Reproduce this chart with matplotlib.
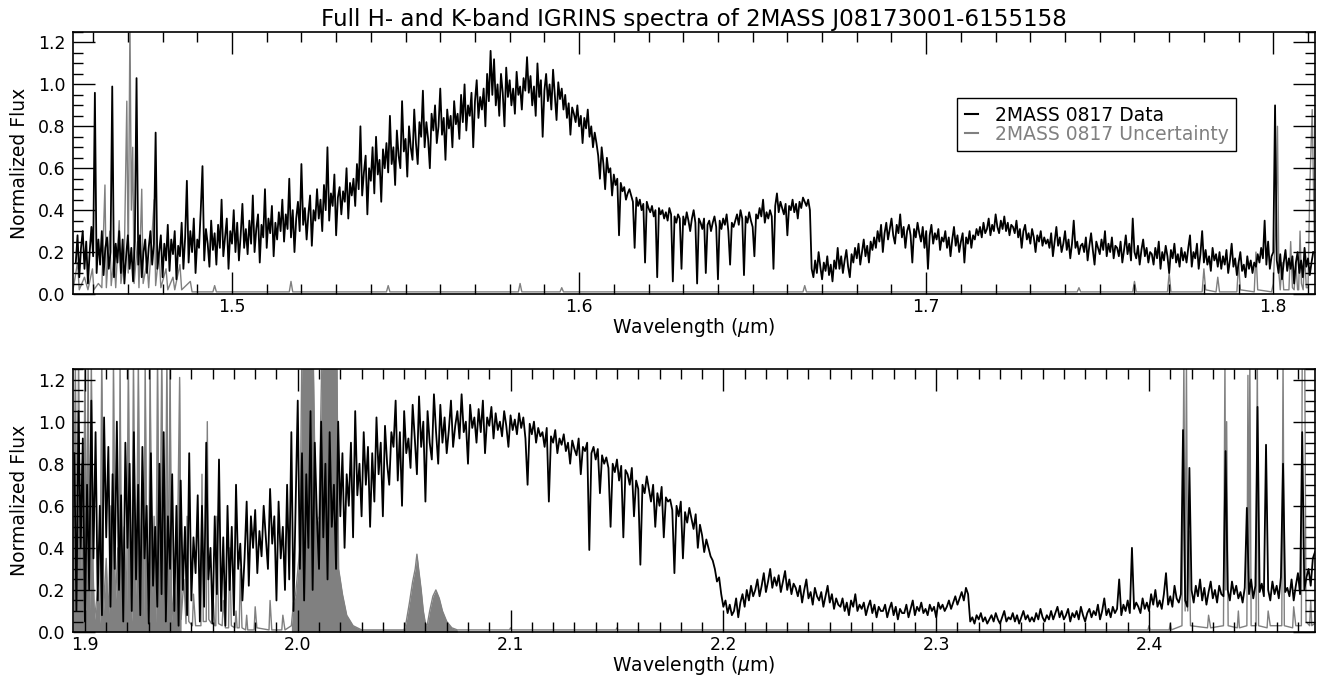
import numpy as np
import matplotlib
matplotlib.use("Agg")
import matplotlib.pyplot as plt
from matplotlib.ticker import MultipleLocator

TITLE = "Full H- and K-band IGRINS spectra of 2MASS J08173001-6155158"
DATA_LABEL = "2MASS 0817 Data"
UNC_LABEL = "2MASS 0817 Uncertainty"

# H band flux, one value every 0.0005 um starting at 1.455 um (20 per row = 0.01 um)
H_START = 1.455
H_STEP = 0.0005
h_flux = [
    0.15, 0.28, 0.08, 0.22, 0.30, 0.12, 0.25, 0.05, 0.20, 0.32, 0.18, 0.96, 0.10, 0.26, 0.14, 0.30, 0.09, 0.22, 0.27, 0.12,
    0.20, 0.99, 0.08, 0.24, 0.15, 0.30, 0.10, 0.26, 0.05, 0.18, 0.28, 0.12, 0.22, 0.06, 0.25, 1.03, 0.14, 0.28, 0.08, 0.20,
    0.26, 0.10, 0.22, 0.30, 0.14, 0.24, 0.77, 0.12, 0.20, 0.28, 0.08, 0.24, 0.16, 0.33, 0.11, 0.26, 0.19, 0.30, 0.07, 0.23,
    0.18, 0.34, 0.12, 0.27, 0.54, 0.15, 0.30, 0.20, 0.36, 0.10, 0.26, 0.22, 0.40, 0.61, 0.16, 0.31, 0.24, 0.13, 0.35, 0.21,
    0.29, 0.14, 0.33, 0.22, 0.45, 0.18, 0.27, 0.36, 0.12, 0.30, 0.24, 0.40, 0.20, 0.34, 0.16, 0.28, 0.43, 0.22, 0.31, 0.19,
    0.35, 0.24, 0.47, 0.20, 0.31, 0.38, 0.15, 0.33, 0.27, 0.50, 0.22, 0.36, 0.29, 0.42, 0.18, 0.34, 0.26, 0.39, 0.30, 0.45,
    0.25, 0.38, 0.31, 0.55, 0.27, 0.40, 0.20, 0.36, 0.44, 0.30, 0.62, 0.33, 0.41, 0.26, 0.38, 0.47, 0.23, 0.40, 0.35, 0.50,
    0.36, 0.45, 0.30, 0.52, 0.40, 0.70, 0.35, 0.48, 0.42, 0.57, 0.28, 0.46, 0.51, 0.38, 0.49, 0.44, 0.60, 0.36, 0.53, 0.47,
    0.55, 0.42, 0.62, 0.50, 0.80, 0.47, 0.58, 0.66, 0.38, 0.60, 0.54, 0.70, 0.48, 0.75, 0.57, 0.64, 0.44, 0.69, 0.60, 0.72,
    0.58, 0.85, 0.62, 0.70, 0.52, 0.78, 0.66, 0.60, 0.92, 0.68, 0.74, 0.56, 0.80, 0.70, 0.64, 0.88, 0.72, 0.62, 0.82, 0.75,
    0.97, 0.70, 0.82, 0.74, 0.60, 0.86, 0.78, 0.90, 0.72, 0.80, 0.98, 0.76, 0.84, 0.64, 0.88, 0.79, 0.85, 0.70, 0.92, 0.81,
    0.86, 0.74, 0.95, 0.82, 1.00, 0.78, 0.90, 0.85, 0.96, 0.70, 0.92, 1.02, 0.84, 0.94, 0.88, 0.98, 0.80, 1.05, 0.92, 1.16,
    0.95, 1.12, 0.90, 1.00, 0.85, 1.05, 0.96, 0.80, 1.08, 0.94, 1.02, 0.90, 0.98, 0.86, 1.06, 0.95, 0.99, 0.88, 1.03, 0.97,
    1.13, 0.96, 1.04, 0.90, 0.99, 0.85, 1.10, 0.94, 1.02, 0.75, 0.97, 1.05, 0.92, 1.00, 0.88, 1.07, 0.95, 0.83, 1.01, 0.93,
    0.98, 0.88, 0.95, 0.84, 0.91, 0.76, 0.89, 0.86, 0.82, 0.90, 0.80, 0.85, 0.72, 0.84, 0.79, 0.88, 0.75, 0.80, 0.70, 0.77,
    0.72, 0.66, 0.55, 0.70, 0.62, 0.50, 0.65, 0.58, 0.60, 0.47, 0.57, 0.52, 0.55, 0.28, 0.53, 0.49, 0.51, 0.45, 0.48, 0.50,
    0.47, 0.44, 0.22, 0.46, 0.42, 0.45, 0.40, 0.43, 0.15, 0.44, 0.41, 0.39, 0.42, 0.37, 0.40, 0.08, 0.41, 0.38, 0.40, 0.36,
    0.39, 0.35, 0.41, 0.38, 0.06, 0.37, 0.34, 0.38, 0.36, 0.12, 0.37, 0.33, 0.39, 0.35, 0.30, 0.36, 0.40, 0.34, 0.05, 0.36,
    0.34, 0.31, 0.36, 0.10, 0.33, 0.35, 0.30, 0.34, 0.37, 0.32, 0.07, 0.35, 0.31, 0.36, 0.33, 0.38, 0.30, 0.14, 0.34, 0.32,
    0.35, 0.38, 0.33, 0.40, 0.36, 0.09, 0.37, 0.34, 0.39, 0.35, 0.32, 0.18, 0.38, 0.36, 0.41, 0.37, 0.45, 0.34, 0.39, 0.36,
    0.40, 0.37, 0.12, 0.42, 0.48, 0.39, 0.44, 0.41, 0.38, 0.43, 0.28, 0.42, 0.40, 0.45, 0.39, 0.43, 0.36, 0.44, 0.41, 0.46,
    0.44, 0.42, 0.45, 0.40, 0.12, 0.08, 0.16, 0.10, 0.20, 0.13, 0.07, 0.15, 0.11, 0.18, 0.09, 0.14, 0.06, 0.16, 0.12, 0.22,
    0.12, 0.18, 0.10, 0.16, 0.21, 0.13, 0.08, 0.19, 0.15, 0.22, 0.17, 0.24, 0.14, 0.20, 0.26, 0.18, 0.23, 0.15, 0.25, 0.21,
    0.27, 0.22, 0.30, 0.25, 0.33, 0.20, 0.29, 0.34, 0.26, 0.31, 0.36, 0.28, 0.24, 0.33, 0.29, 0.38, 0.27, 0.32, 0.22, 0.30,
    0.33, 0.28, 0.15, 0.31, 0.27, 0.34, 0.29, 0.25, 0.32, 0.22, 0.30, 0.12, 0.28, 0.33, 0.24, 0.29, 0.26, 0.31, 0.21, 0.27,
    0.25, 0.30, 0.22, 0.27, 0.18, 0.26, 0.32, 0.23, 0.28, 0.20, 0.25, 0.29, 0.15, 0.27, 0.24, 0.30, 0.22, 0.28, 0.26, 0.31,
    0.28, 0.32, 0.27, 0.34, 0.29, 0.31, 0.36, 0.28, 0.33, 0.30, 0.38, 0.32, 0.29, 0.35, 0.31, 0.37, 0.30, 0.34, 0.28, 0.33,
    0.32, 0.29, 0.35, 0.27, 0.31, 0.22, 0.30, 0.33, 0.26, 0.29, 0.24, 0.31, 0.27, 0.20, 0.28, 0.25, 0.30, 0.23, 0.27, 0.24,
    0.26, 0.22, 0.29, 0.18, 0.25, 0.32, 0.23, 0.27, 0.20, 0.24, 0.30, 0.21, 0.26, 0.17, 0.24, 0.35, 0.22, 0.25, 0.19, 0.23,
    0.24, 0.20, 0.27, 0.16, 0.23, 0.29, 0.21, 0.14, 0.25, 0.22, 0.19, 0.26, 0.21, 0.30, 0.18, 0.24, 0.20, 0.27, 0.17, 0.23,
    0.22, 0.18, 0.25, 0.15, 0.21, 0.28, 0.19, 0.24, 0.16, 0.36, 0.20, 0.17, 0.23, 0.14, 0.21, 0.26, 0.18, 0.22, 0.15, 0.20,
    0.19, 0.14, 0.22, 0.17, 0.25, 0.12, 0.20, 0.16, 0.23, 0.18, 0.10, 0.21, 0.17, 0.24, 0.15, 0.19, 0.13, 0.22, 0.16, 0.20,
    0.15, 0.22, 0.28, 0.13, 0.20, 0.17, 0.24, 0.12, 0.19, 0.30, 0.15, 0.21, 0.14, 0.18, 0.11, 0.22, 0.16, 0.19, 0.13, 0.20,
    0.12, 0.18, 0.14, 0.21, 0.10, 0.16, 0.24, 0.13, 0.17, 0.09, 0.15, 0.20, 0.11, 0.14, 0.08, 0.18, 0.12, 0.16, 0.10, 0.15,
    0.13, 0.19, 0.15, 0.22, 0.17, 0.35, 0.14, 0.25, 0.12, 0.18, 0.20, 0.90, 0.16, 0.10, 0.19, 0.07, 0.15, 0.21, 0.11, 0.17,
    0.12, 0.18, 0.05, 0.15, 0.20, 0.10, 0.16, 0.08, 0.22, 0.13, 0.17, 0.09, 0.15, 0.20,
]

# K band flux, one value every 0.001 um starting at 1.895 um (10 per row = 0.01 um)
K_START = 1.895
K_STEP = 0.001
k_flux = [
    0.85, 0.10, 1.05, 0.40, 0.92, 0.05, 0.70, 0.20, 1.10, 0.35,
    0.95, 0.15, 0.60, 0.08, 1.02, 0.45, 0.88, 0.12, 0.75, 0.30,
    1.00, 0.20, 0.65, 0.05, 0.90, 0.40, 0.80, 0.10, 0.95, 0.25,
    0.70, 0.08, 0.88, 0.35, 0.60, 0.04, 0.85, 0.22, 0.50, 0.12,
    0.80, 0.18, 0.95, 0.05, 0.55, 0.30, 0.75, 0.10, 0.60, 0.03,
    0.72, 0.20, 0.50, 0.08, 0.85, 0.15, 0.45, 0.28, 0.65, 0.05,
    0.60, 0.12, 0.90, 0.25, 0.40, 0.04, 0.55, 0.18, 0.82, 0.10,
    0.45, 0.03, 0.60, 0.20, 0.50, 0.08, 0.70, 0.30, 0.42, 0.15,
    0.35, 0.62, 0.22, 0.55, 0.40, 0.58, 0.28, 0.48, 0.36, 0.60,
    0.45, 0.30, 0.68, 0.42, 0.55, 0.15, 0.62, 0.35, 0.50, 0.20,
    0.70, 0.25, 0.95, 0.10, 0.60, 1.10, 0.30, 0.85, 0.15, 0.75,
    0.40, 1.05, 0.20, 0.90, 0.55, 0.30, 1.00, 0.45, 0.80, 0.25,
    0.95, 0.50, 0.70, 0.30, 1.00, 0.55, 0.85, 0.40, 0.75, 0.60,
    0.90, 0.45, 1.05, 0.65, 0.80, 0.55, 0.95, 0.70, 0.88, 0.50,
    0.85, 0.62, 1.02, 0.75, 0.90, 0.55, 0.98, 0.80, 0.70, 0.95,
    0.88, 1.10, 0.72, 0.95, 0.60, 1.05, 0.85, 0.92, 0.78, 1.08,
    0.92, 0.75, 1.12, 0.88, 1.00, 0.62, 1.05, 0.90, 0.82, 1.13,
    0.95, 0.80, 1.08, 0.90, 1.02, 0.85, 0.96, 1.10, 0.88, 0.98,
    1.05, 0.92, 1.13, 0.95, 1.00, 0.80, 1.08, 0.97, 1.02, 0.90,
    1.06, 0.95, 1.10, 0.85, 1.02, 0.98, 1.07, 0.92, 1.04, 0.96,
    1.00, 0.93, 1.05, 0.98, 0.88, 1.03, 0.96, 1.01, 0.94, 1.04,
    0.97, 1.02, 0.92, 0.70, 0.99, 0.94, 1.00, 0.90, 0.97, 0.93,
    0.95, 0.88, 0.97, 0.62, 0.93, 0.90, 0.96, 0.85, 0.92, 0.89,
    0.94, 0.86, 0.90, 0.80, 0.91, 0.87, 0.84, 0.92, 0.75, 0.88,
    0.86, 0.90, 0.39, 0.85, 0.88, 0.82, 0.87, 0.66, 0.84, 0.80,
    0.83, 0.78, 0.50, 0.80, 0.76, 0.82, 0.72, 0.79, 0.45, 0.77,
    0.75, 0.70, 0.78, 0.55, 0.72, 0.68, 0.32, 0.70, 0.66, 0.74,
    0.68, 0.62, 0.70, 0.50, 0.66, 0.60, 0.69, 0.45, 0.64, 0.62,
    0.63, 0.58, 0.28, 0.60, 0.55, 0.62, 0.35, 0.57, 0.52, 0.59,
    0.54, 0.49, 0.56, 0.40, 0.51, 0.46, 0.38, 0.44, 0.40, 0.36,
    0.34, 0.30, 0.24, 0.26, 0.18, 0.12, 0.15, 0.09, 0.13, 0.08,
    0.10, 0.16, 0.07, 0.14, 0.18, 0.12, 0.20, 0.15, 0.22, 0.17,
    0.20, 0.25, 0.17, 0.22, 0.28, 0.19, 0.24, 0.30, 0.21, 0.26,
    0.22, 0.27, 0.19, 0.24, 0.29, 0.20, 0.25, 0.18, 0.23, 0.21,
    0.17, 0.22, 0.14, 0.20, 0.25, 0.16, 0.19, 0.13, 0.21, 0.17,
    0.15, 0.19, 0.12, 0.17, 0.22, 0.14, 0.18, 0.11, 0.16, 0.13,
    0.12, 0.16, 0.10, 0.14, 0.08, 0.15, 0.12, 0.18, 0.10, 0.13,
    0.11, 0.14, 0.08, 0.12, 0.15, 0.09, 0.13, 0.07, 0.12, 0.10,
    0.10, 0.13, 0.07, 0.11, 0.14, 0.08, 0.12, 0.06, 0.11, 0.09,
    0.09, 0.13, 0.07, 0.11, 0.15, 0.08, 0.12, 0.10, 0.14, 0.09,
    0.11, 0.08, 0.13, 0.10, 0.12, 0.07, 0.14, 0.11, 0.13, 0.10,
    0.12, 0.15, 0.11, 0.14, 0.17, 0.13, 0.16, 0.19, 0.15, 0.21,
    0.18, 0.05, 0.07, 0.04, 0.08, 0.06, 0.09, 0.05, 0.07, 0.04,
    0.06, 0.08, 0.05, 0.09, 0.06, 0.04, 0.07, 0.10, 0.05, 0.07,
    0.06, 0.09, 0.05, 0.08, 0.04, 0.07, 0.10, 0.06, 0.08, 0.05,
    0.07, 0.05, 0.09, 0.06, 0.11, 0.07, 0.05, 0.08, 0.06, 0.10,
    0.06, 0.09, 0.12, 0.07, 0.10, 0.06, 0.08, 0.11, 0.05, 0.09,
    0.07, 0.10, 0.06, 0.12, 0.08, 0.05, 0.09, 0.11, 0.07, 0.10,
    0.08, 0.13, 0.06, 0.10, 0.16, 0.08, 0.11, 0.07, 0.12, 0.09,
    0.11, 0.25, 0.08, 0.13, 0.10, 0.15, 0.09, 0.40, 0.11, 0.14,
    0.12, 0.09, 0.16, 0.11, 0.14, 0.10, 0.18, 0.13, 0.20, 0.12,
    0.15, 0.11, 0.18, 0.28, 0.13, 0.17, 0.12, 0.22, 0.16, 0.14,
    0.18, 0.96, 0.15, 0.12, 0.78, 0.20, 0.14, 0.22, 0.17, 0.25,
    0.15, 0.21, 0.13, 0.19, 0.24, 0.16, 0.20, 0.14, 0.22, 0.18,
    0.17, 0.86, 0.20, 0.15, 0.24, 0.18, 0.22, 0.16, 0.19, 0.14,
    0.21, 0.59, 0.18, 0.25, 0.16, 0.22, 1.07, 0.19, 0.23, 0.17,
    0.89, 0.20, 0.15, 0.24, 0.18, 0.22, 0.16, 0.26, 0.80, 0.19,
    0.21, 0.17, 0.25, 0.15, 0.22, 0.28, 0.18, 0.95, 0.20, 0.26,
    0.30, 0.22, 0.35, 0.38,
]

# uncertainty, (wavelength, value) pairs
h_unc = [
    (1.4542, 0.02), (1.4555, 0.15), (1.4560, 0.02), (1.4575, 0.08),
    (1.4585, 0.02), (1.4598, 0.12), (1.4602, 0.02), (1.4615, 0.05),
    (1.4625, 0.03), (1.4634, 0.52), (1.4638, 0.03), (1.4648, 0.30),
    (1.4652, 0.04), (1.4660, 0.18), (1.4665, 0.03), (1.4675, 0.35),
    (1.4680, 0.05), (1.4690, 0.20), (1.4697, 0.92), (1.4701, 0.10),
    (1.4706, 1.30), (1.4710, 0.40), (1.4714, 0.70), (1.4718, 0.05),
    (1.4728, 0.25), (1.4732, 0.03), (1.4740, 0.50), (1.4744, 0.05),
    (1.4755, 0.15), (1.4760, 0.03), (1.4776, 0.45), (1.4780, 0.04),
    (1.4790, 0.20), (1.4795, 0.03), (1.4810, 0.12), (1.4815, 0.02),
    (1.4830, 0.08), (1.4835, 0.02), (1.4850, 0.14), (1.4855, 0.02),
    (1.4880, 0.06), (1.4885, 0.01), (1.4945, 0.01), (1.4950, 0.04),
    (1.4955, 0.01), (1.5165, 0.01), (1.5170, 0.06), (1.5175, 0.01),
    (1.5445, 0.01), (1.5450, 0.04), (1.5455, 0.01), (1.5825, 0.01),
    (1.5830, 0.05), (1.5835, 0.01), (1.5945, 0.01), (1.5950, 0.03),
    (1.5955, 0.01), (1.6645, 0.01), (1.6650, 0.04), (1.6655, 0.01),
    (1.7435, 0.01), (1.7440, 0.03), (1.7445, 0.01), (1.7595, 0.01),
    (1.7600, 0.06), (1.7605, 0.01), (1.7695, 0.01), (1.7700, 0.10),
    (1.7705, 0.01), (1.7795, 0.01), (1.7800, 0.12), (1.7805, 0.02),
    (1.7835, 0.01), (1.7840, 0.08), (1.7845, 0.01), (1.7895, 0.01),
    (1.7900, 0.15), (1.7905, 0.02), (1.7945, 0.01), (1.7950, 0.20),
    (1.7955, 0.02), (1.7995, 0.01), (1.8000, 0.05), (1.8008, 0.37),
    (1.8012, 0.80), (1.8016, 0.10), (1.8020, 0.02), (1.8025, 0.15),
    (1.8030, 0.02), (1.8045, 0.02), (1.8050, 0.25), (1.8055, 0.03),
    (1.8060, 0.02), (1.8065, 0.15), (1.8070, 0.02), (1.8073, 0.02),
    (1.8077, 0.30), (1.8081, 0.05), (1.8086, 0.02), (1.8090, 0.20),
    (1.8095, 0.03), (1.8100, 0.03), (1.8105, 0.50), (1.8112, 0.88),
    (1.8120, 0.10),
]

k_unc = [
    (1.8944, 0.10), (1.8955, 1.30), (1.8962, 0.20), (1.8970, 1.30),
    (1.8978, 0.15), (1.8985, 0.80), (1.8992, 0.05), (1.9000, 1.30),
    (1.9008, 0.25), (1.9015, 1.30), (1.9022, 0.10), (1.9030, 1.30),
    (1.9038, 0.30), (1.9045, 0.06), (1.9060, 0.20), (1.9070, 0.04),
    (1.9079, 1.30), (1.9088, 0.10), (1.9100, 0.35), (1.9110, 0.05),
    (1.9122, 0.60), (1.9128, 0.08), (1.9134, 1.30), (1.9142, 0.12),
    (1.9155, 0.40), (1.9160, 0.05), (1.9165, 1.30), (1.9172, 0.15),
    (1.9185, 0.50), (1.9195, 0.07), (1.9204, 1.30), (1.9212, 0.20),
    (1.9220, 0.05), (1.9228, 1.30), (1.9236, 0.10), (1.9244, 0.45),
    (1.9251, 1.30), (1.9260, 0.08), (1.9270, 0.70), (1.9277, 0.06),
    (1.9283, 1.30), (1.9292, 0.12), (1.9300, 0.05), (1.9306, 1.30),
    (1.9315, 0.18), (1.9325, 0.55), (1.9333, 0.04), (1.9341, 1.30),
    (1.9350, 0.10), (1.9361, 1.30), (1.9370, 0.06), (1.9378, 0.40),
    (1.9385, 1.30), (1.9392, 0.08), (1.9400, 1.30), (1.9408, 0.05),
    (1.9420, 0.22), (1.9430, 0.03), (1.9445, 1.21), (1.9452, 0.06),
    (1.9465, 0.25), (1.9475, 0.04), (1.9480, 0.55), (1.9488, 0.05),
    (1.9505, 0.03), (1.9510, 0.18), (1.9520, 0.03), (1.9545, 0.03),
    (1.9550, 0.75), (1.9556, 0.05), (1.9570, 0.05), (1.9575, 1.00),
    (1.9582, 0.06), (1.9595, 0.04), (1.9600, 0.20), (1.9610, 0.03),
    (1.9615, 0.03), (1.9620, 0.55), (1.9628, 0.04), (1.9645, 0.03),
    (1.9650, 0.15), (1.9660, 0.02), (1.9675, 0.02), (1.9680, 0.40),
    (1.9688, 0.03), (1.9705, 0.02), (1.9710, 0.10), (1.9715, 0.02),
    (1.9725, 0.02), (1.9730, 0.30), (1.9738, 0.02), (1.9755, 0.01),
    (1.9760, 0.08), (1.9765, 0.01), (1.9795, 0.01), (1.9800, 0.12),
    (1.9808, 0.02), (1.9865, 0.01), (1.9870, 0.15), (1.9878, 0.01),
    (1.9925, 0.01), (1.9930, 0.08), (1.9940, 0.01), (1.9970, 0.03),
    (1.9980, 0.14), (1.9990, 0.18), (2.0010, 0.40), (2.0019, 1.30),
    (2.0073, 1.30), (2.0085, 0.50), (2.0100, 0.55), (2.0113, 1.30),
    (2.0184, 1.30), (2.0192, 0.30), (2.0210, 0.18), (2.0230, 0.08),
    (2.0260, 0.03), (2.0300, 0.01), (2.0500, 0.01), (2.0510, 0.05),
    (2.0525, 0.14), (2.0540, 0.24), (2.0552, 0.30), (2.0560, 0.37),
    (2.0568, 0.30), (2.0580, 0.20), (2.0590, 0.10), (2.0600, 0.04),
    (2.0608, 0.03), (2.0620, 0.10), (2.0635, 0.17), (2.0649, 0.20),
    (2.0665, 0.16), (2.0680, 0.10), (2.0700, 0.05), (2.0724, 0.02),
    (2.0750, 0.01), (2.0995, 0.01), (2.1000, 0.02), (2.1005, 0.01),
    (2.1495, 0.01), (2.1500, 0.02), (2.1505, 0.01), (2.3000, 0.01),
    (2.3995, 0.01), (2.4000, 0.03), (2.4005, 0.01), (2.4095, 0.01),
    (2.4100, 0.04), (2.4105, 0.01), (2.4155, 0.03), (2.4164, 1.30),
    (2.4170, 0.10), (2.4176, 1.30), (2.4182, 0.10), (2.4188, 0.48),
    (2.4195, 0.03), (2.4275, 0.02), (2.4280, 0.08), (2.4290, 0.02),
    (2.4350, 0.03), (2.4357, 1.30), (2.4361, 0.20), (2.4365, 1.00),
    (2.4372, 0.03), (2.4415, 0.02), (2.4420, 0.10), (2.4425, 0.02),
    (2.4460, 0.03), (2.4465, 1.22), (2.4469, 0.20), (2.4474, 1.30),
    (2.4480, 0.03), (2.4503, 0.03), (2.4509, 1.30), (2.4515, 0.03),
    (2.4555, 0.02), (2.4560, 0.10), (2.4570, 0.03), (2.4624, 0.03),
    (2.4630, 1.30), (2.4636, 0.03), (2.4675, 0.02), (2.4680, 0.12),
    (2.4690, 0.03), (2.4716, 0.03), (2.4720, 1.30), (2.4732, 1.30),
    (2.4738, 0.05), (2.4755, 0.03), (2.4760, 0.15), (2.4765, 0.03),
    (2.4790, 0.05),
]

# wavelength ranges where the grey uncertainty is so dense it reads as filled
K_FILL_RANGES = [(1.8940, 1.9460), (1.9960, 2.0760)]

H_XLIM = (1.4542, 1.812)
K_XLIM = (1.8944, 2.478)
YLIM = (0.0, 1.25)


def style_axis(ax, xlim):
    """IDL-like box axis with inward ticks on all four sides."""
    ax.set_xlim(*xlim)
    ax.set_ylim(*YLIM)
    ax.xaxis.set_major_locator(MultipleLocator(0.1))
    ax.xaxis.set_minor_locator(MultipleLocator(0.01))
    ax.yaxis.set_major_locator(MultipleLocator(0.2))
    ax.yaxis.set_minor_locator(MultipleLocator(0.05))
    ax.tick_params(which="both", direction="in", top=True, right=True,
                   labelsize=12.5, width=1)
    ax.tick_params(which="major", length=16)
    ax.tick_params(which="minor", length=7)
    ax.tick_params(axis="x", which="major", pad=3)
    ax.tick_params(axis="y", which="major", pad=5.5)
    ax.set_xlabel(r"Wavelength ($\mu$m)", fontsize=13.5, labelpad=0)
    ax.set_ylabel("Normalized Flux", fontsize=13.5, labelpad=6)
    for spine in ax.spines.values():
        spine.set_linewidth(1.2)


def plot_band(ax, start, step, flux, unc, fill_ranges=()):
    wave = start + step * np.arange(len(flux))
    uw, uf = (np.array(v) for v in zip(*unc))
    for lo, hi in fill_ranges:
        mask = (uw >= lo) & (uw <= hi)
        ax.fill_between(uw[mask], 0, uf[mask], color="gray", lw=0, zorder=1)
    ax.plot(uw, uf, color="gray", lw=1.0, zorder=1)
    ax.plot(wave, flux, color="black", lw=1.3, zorder=2)


fig = plt.figure(figsize=(13.3, 6.78), dpi=100)
ax_h = fig.add_axes([0.0549, 0.5664, 0.9338, 0.3864])
ax_k = fig.add_axes([0.0549, 0.0678, 0.9338, 0.3879])

plot_band(ax_h, H_START, H_STEP, h_flux, h_unc)
plot_band(ax_k, K_START, K_STEP, k_flux, k_unc, K_FILL_RANGES)

style_axis(ax_h, H_XLIM)
style_axis(ax_k, K_XLIM)
ax_h.set_title(TITLE, fontsize=16.6, pad=4)

handles = [plt.Line2D([], [], color="black", lw=1.5),
           plt.Line2D([], [], color="gray", lw=1.5)]
leg = ax_h.legend(handles, [DATA_LABEL, UNC_LABEL], loc="upper right",
                  bbox_to_anchor=(0.9364, 0.748), fontsize=13.5,
                  labelcolor=["black", "gray"], fancybox=False,
                  edgecolor="black", framealpha=1, handlelength=0.7,
                  handletextpad=0.9, borderpad=0.4, labelspacing=0.0,
                  borderaxespad=0)
leg.get_frame().set_linewidth(1.0)

fig.savefig("out.png", dpi=100)
plt.close(fig)
